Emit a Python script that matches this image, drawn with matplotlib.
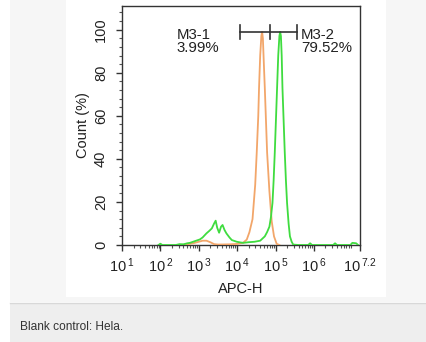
import numpy as np
import matplotlib
matplotlib.use("Agg")
import matplotlib.pyplot as plt
from matplotlib.patches import Rectangle
from matplotlib.lines import Line2D
from matplotlib.ticker import FixedLocator, MultipleLocator, LogLocator, NullFormatter

plt.rcParams['font.family'] = ['Liberation Sans', 'DejaVu Sans']
plt.rcParams['mathtext.fontset'] = 'custom'
plt.rcParams['mathtext.rm'] = 'Liberation Sans'

# ---- data (log10 of APC-H intensity, Count %) ----
blank_log = [2.5, 2.7, 2.85, 3.0, 3.1, 3.2, 3.3, 3.4, 3.5, 3.8, 4.0, 4.15, 4.25, 4.32,
             4.40, 4.47, 4.51, 4.55, 4.57, 4.60, 4.63, 4.65, 4.67, 4.70, 4.72, 4.75,
             4.78, 4.84, 4.90, 4.96, 5.03, 5.1]
blank_cnt = [0, 0.3, 0.8, 1.5, 2.0, 2.0, 1.3, 0.4, 0.2, 0.3, 0.5, 1.0, 2.5, 6,
             12, 28, 43, 60, 73, 88, 97, 99, 96, 82, 73, 58,
             43, 25, 11, 4, 0.5, 0]

sample_log = [1.95, 2.0, 2.05, 2.4, 2.5, 2.6, 2.7, 2.77, 2.9, 3.03, 3.1, 3.2, 3.27, 3.34,
              3.4, 3.44, 3.48, 3.53, 3.58, 3.62, 3.67, 3.72, 3.8, 3.86, 3.99, 4.08,
              4.16, 4.3, 4.45, 4.6, 4.72, 4.78, 4.84, 4.88, 4.92, 4.95, 4.98, 5.01,
              5.04, 5.07, 5.10, 5.12, 5.14, 5.16, 5.18, 5.21, 5.24, 5.27, 5.30, 5.34,
              5.375, 5.42, 5.46, 5.6, 5.85, 5.9, 5.95, 6.5, 6.55, 6.6, 6.95, 7.0,
              7.1, 7.15]
sample_cnt = [0, 0.6, 0, 0, 0.4, 0.3, 0.8, 1.0, 1.8, 2.6, 3.5, 5.4, 6.5, 7.7,
              10, 11.3, 8, 5.7, 8.5, 9.3, 7, 5.4, 3.5, 2.3, 1.5, 1.2,
              1.0, 1.3, 1.5, 2.0, 4, 6, 8.5, 13, 19.5, 30, 43, 58,
              73, 88, 97, 99, 97, 88, 73, 58, 43, 30, 19.5, 10,
              4, 1.5, 0.2, 0, 0, 0.8, 0, 0, 0.8, 0, 0, 1.0,
              0.8, 0]

gate_edges_log = [4.07, 4.85, 5.56]
gate_level = 99
gate_names = ["M3-1\n3.99%", "M3-2\n79.52%"]
gate_label_log = [2.43, 5.66]

xtick_exp = ["1", "2", "3", "4", "5", "6", "7.2"]
xtick_log = [1, 2, 3, 4, 5, 6, 7.2]
yticks = [0, 20, 40, 60, 80, 100]

W, H = 427, 342
fig = plt.figure(figsize=(W / 100, H / 100), dpi=100, facecolor='white')

def px_rect(x0, y0, x1, y1, color):
    fig.add_artist(Rectangle((x0 / W, 1 - y1 / H), (x1 - x0) / W, (y1 - y0) / H,
                             transform=fig.transFigure, facecolor=color,
                             edgecolor='none', zorder=-10))

px_rect(10, 0, 427, 302, '#f6f6f6')
px_rect(66, 0, 386, 297, 'white')
px_rect(10, 303, 427, 342, '#eeeeee')
fig.add_artist(Line2D([10 / W, 1], [1 - 302.5 / H] * 2, transform=fig.transFigure,
                      color='#d8d8d8', lw=1, zorder=-9))

ax = fig.add_axes([122 / W, 1 - 245 / H, 238 / W, 239 / H])
ax.set_xscale('log')
ax.set_xlim(10 ** 1, 10 ** 7.2)
ax.set_ylim(0, 111)

ax.plot(10 ** np.array(blank_log), blank_cnt, color='#f2a66a', lw=1.3, zorder=3)
ax.plot(10 ** np.array(sample_log), sample_cnt, color='#3fdc3f', lw=1.3, zorder=4)

# gates
ge = 10 ** np.array(gate_edges_log)
ax.plot([ge[0], ge[-1]], [gate_level, gate_level], color='#333333', lw=1.2, zorder=5)
for g in ge:
    ax.plot([g, g], [gate_level - 3.3, gate_level + 3.3], color='#333333', lw=1.2, zorder=5)
for name, lx in zip(gate_names, gate_label_log):
    ax.text(10 ** lx, 101, name, ha='left', va='top', fontsize=10.8,
            color='#222222', linespacing=0.95)

# ticks
ax.xaxis.set_major_locator(FixedLocator([10 ** v for v in xtick_log]))
ax.set_xticklabels([r'$\mathregular{10^{\,' + e + '}}$' for e in xtick_exp])
ax.xaxis.set_minor_locator(LogLocator(base=10, subs=np.arange(2, 10), numticks=20))
ax.xaxis.set_minor_formatter(NullFormatter())
ax.set_yticks(yticks)
ax.set_yticklabels([str(v) for v in yticks], rotation=90, va='center')
ax.yaxis.set_minor_locator(MultipleLocator(4))

ax.tick_params(which='major', length=4, width=1, color='#333333', labelsize=10.5,
               labelcolor='#222222', pad=4)
ax.tick_params(which='minor', length=2, width=0.8, color='#555555')
ax.tick_params(axis='y', which='major', pad=6)

for s in ax.spines.values():
    s.set_color('#333333')
    s.set_linewidth(1.0)

ax.set_xlabel('APC-H', fontsize=10.5, color='#222222', labelpad=5)
ax.set_ylabel('Count (%)', fontsize=10.5, color='#222222', labelpad=3)

fig.text(20 / W, 1 - 327 / H, 'Blank control: Hela.', fontsize=8.6,
         color='#333333', va='center', ha='left')

fig.savefig('out.png', dpi=100, facecolor='white')
